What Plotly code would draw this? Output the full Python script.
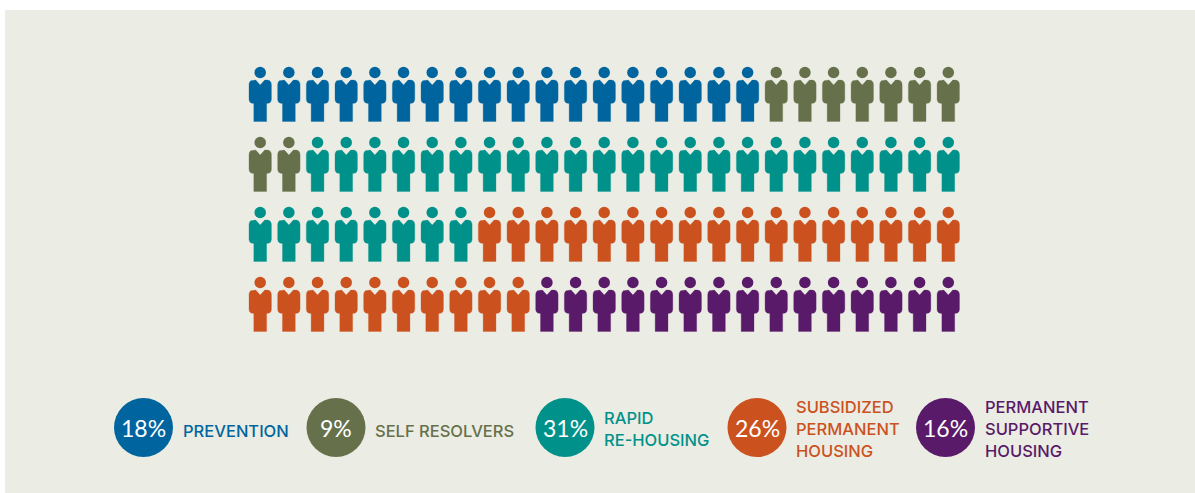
import plotly.graph_objects as go

# Legend content
categories = ["Prevention", "Self resolvers", "Rapid re-housing",
              "Subsidized permanent housing", "Permanent supportive housing"]
percent_labels = ["18%", "9%", "31%", "26%", "16%"]
legend_lines = [["PREVENTION"], ["SELF RESOLVERS"], ["RAPID", "RE-HOUSING"],
                ["SUBSIDIZED", "PERMANENT", "HOUSING"],
                ["PERMANENT", "SUPPORTIVE", "HOUSING"]]
colors = ["#00659f", "#66714c", "#00928a", "#cb521e", "#591a69"]

# Figures drawn per category, filled row by row
icon_counts = [18, 9, 31, 27, 15]
columns = 25
rows = 4

WIDTH, HEIGHT = 1195, 493
# Panel edges, in pixels
PANEL = dict(l=5, t=10, r=1195, b=493)
COL0_PX, COL_STEP_PX = 260.2, 28.67
ROW0_PX, ROW_STEP_PX = 72.5, 70.0

# Figure outline in column/row units around the head centre
def ux(px):
    return px / COL_STEP_PX

def uy(py):
    return py / ROW_STEP_PX

BODY = [(-4.5, 7.6), (-7.5, 7.6), (-9.6, 8.3), (-10.8, 10), (-11.2, 12), (-11.2, 27),
        (-10.6, 29.2), (-9.2, 30.6), (-6.4, 31), (-6.4, 49), (6.4, 49), (6.4, 31),
        (9.2, 30.6), (10.6, 29.2), (11.2, 27), (11.2, 12), (10.8, 10), (9.6, 8.3),
        (7.5, 7.6), (4.5, 7.6), (0, 12.6)]

fig = go.Figure()

# Walk through the grid, colouring each position by category
position = 0
for name, count, color in zip(categories, icon_counts, colors):
    xs, ys, head_x, head_y = [], [], [], []
    for i in range(position, position + count):
        row, col = divmod(i, columns)
        for bx, by in BODY + BODY[:1]:
            xs.append(col + ux(bx))
            ys.append(row + uy(by))
        xs.append(None)
        ys.append(None)
        head_x.append(col)
        head_y.append(row)
    position += count
    fig.add_trace(go.Scatter(x=xs, y=ys, mode="lines", fill="toself", fillcolor=color,
                             line=dict(color=color, width=0.3), hoverinfo="skip",
                             showlegend=False, name=name))
    fig.add_trace(go.Scatter(x=head_x, y=head_y, mode="markers",
                             marker=dict(color=color, size=11.5, line=dict(width=0)),
                             showlegend=False, name=name))

# Legend badges and their text, placed in pixels on the paper
BADGE_X = [143.5, 336, 565, 757, 945.5]
BADGE_Y = 427.5
LABEL_X = [183, 375, 604, 796, 985]
LABEL_TOP = [430.5, 430.5, 418, 407, 407]
LINE_GAP = 22

def px_x(px):
    return (px - PANEL["l"]) / (PANEL["r"] - PANEL["l"])

def px_y(py):
    return 1 - (py - PANEL["t"]) / (PANEL["b"] - PANEL["t"])

for pct, lines, color, bx, lx, top in zip(percent_labels, legend_lines, colors, BADGE_X, LABEL_X, LABEL_TOP):
    fig.add_shape(type="circle", xref="paper", yref="paper",
                  x0=px_x(bx - 29.5), x1=px_x(bx + 29.5),
                  y0=px_y(BADGE_Y + 29.5), y1=px_y(BADGE_Y - 29.5),
                  fillcolor=color, line=dict(width=0))
    fig.add_annotation(x=px_x(bx), y=px_y(BADGE_Y), xref="paper", yref="paper",
                       text=pct, showarrow=False, xanchor="center", yanchor="middle",
                       font=dict(family="Lato", size=23, color="white"))
    for k, line in enumerate(lines):
        fig.add_annotation(x=px_x(lx), y=px_y(top + k * LINE_GAP), xref="paper", yref="paper",
                           text=line, showarrow=False, xanchor="left", yanchor="middle",
                           xshift=-2,
                           font=dict(family="Inter", size=16.5, color=color, weight=500))

fig.update_layout(
    width=WIDTH, height=HEIGHT,
    margin=dict(l=PANEL["l"], t=PANEL["t"], r=WIDTH - PANEL["r"], b=HEIGHT - PANEL["b"]),
    paper_bgcolor="white", plot_bgcolor="#ebece3",
    xaxis=dict(visible=False, fixedrange=True,
               range=[(PANEL["l"] - COL0_PX) / COL_STEP_PX, (PANEL["r"] - COL0_PX) / COL_STEP_PX]),
    yaxis=dict(visible=False, fixedrange=True,
               range=[(PANEL["b"] - ROW0_PX) / ROW_STEP_PX, (PANEL["t"] - ROW0_PX) / ROW_STEP_PX]),
)

fig.write_html("out.html", config={"displayModeBar": False})
